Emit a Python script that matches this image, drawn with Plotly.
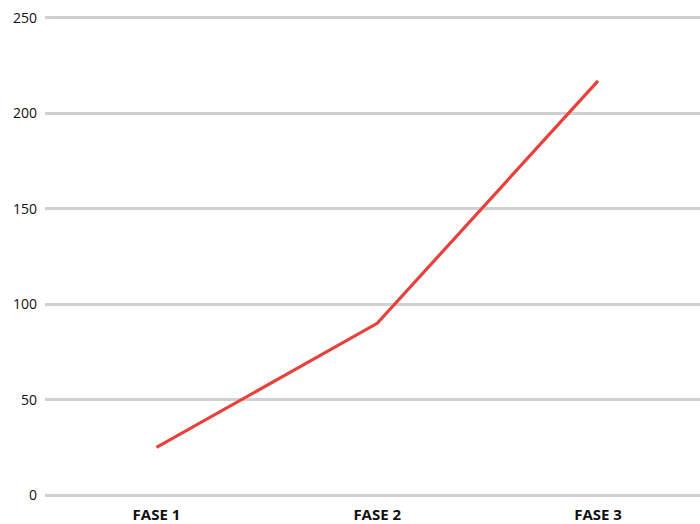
import plotly.graph_objects as go

categories = ["FASE 1", "FASE 2", "FASE 3"]
values = [25, 90, 217]
y_ticks = [0, 50, 100, 150, 200, 250]

fig = go.Figure()
fig.add_trace(go.Scatter(
    x=categories, y=values, mode="lines",
    line=dict(color="#e8413b", width=3.2),
    hoverinfo="skip", showlegend=False,
))

fig.update_layout(
    width=700, height=524,
    margin=dict(l=45, r=0, t=14, b=25),
    paper_bgcolor="white", plot_bgcolor="white",
    font=dict(family="Open Sans", size=14, color="#111111"),
    xaxis=dict(
        type="category", range=[-0.505, 2.462], automargin=False,
        showgrid=False, zeroline=False, showline=False,
        ticks="", tickfont=dict(family="Open Sans", size=15, color="#111111", weight="bold"),
        ticklabelstandoff=5,
    ),
    yaxis=dict(
        range=[-2, 252], tickvals=y_ticks, automargin=False,
        showgrid=True, gridcolor="#d0d0d0", gridwidth=2.6,
        zeroline=False,
        showline=False, ticks="", ticklabelstandoff=7,
        tickfont=dict(family="Open Sans", size=14, color="#111111"),
    ),
)

fig.write_html("out.html")
